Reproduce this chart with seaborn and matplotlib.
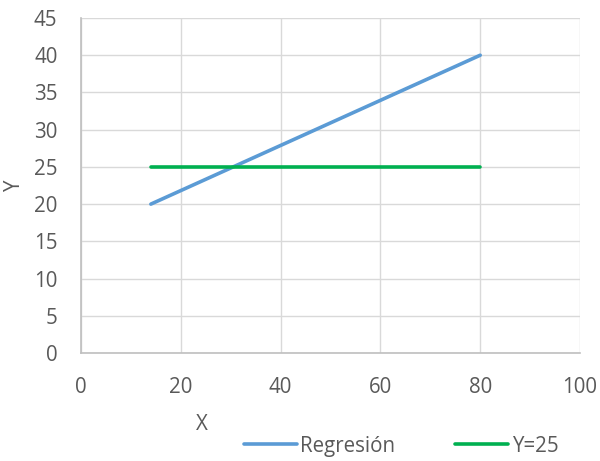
import matplotlib
matplotlib.use("Agg")
import matplotlib.pyplot as plt
import seaborn as sns
import pandas as pd
from matplotlib.lines import Line2D

reg_x = [14, 80]
reg_y = [20, 40]
h_x = [14, 80]
h_y = [25, 25]
series_names = ["Regresión", "Y=25"]
x_ticks = [0, 20, 40, 60, 80, 100]
y_ticks = [0, 5, 10, 15, 20, 25, 30, 35, 40, 45]

sns.set_theme(style="white")
plt.rcParams['font.family'] = ['Open Sans', 'DejaVu Sans']

df = pd.DataFrame({
    "x": reg_x + h_x,
    "y": reg_y + h_y,
    "s": [series_names[0]] * 2 + [series_names[1]] * 2,
})

colors = {"Regresión": "#5B9BD5", "Y=25": "#00B050"}
FS = 14.8

fig = plt.figure(figsize=(6, 4.61), dpi=100)
ax = fig.add_axes([81/600, 1-353/461, 499/600, (353-18)/461])
sns.lineplot(data=df, x="x", y="y", hue="s", palette=colors, linewidth=2.6,
             ax=ax, legend=False, estimator=None, sort=False)
ax.set_xlim(0, 100)
ax.set_ylim(0, 45)
ax.set_xticks(x_ticks)
ax.set_yticks(y_ticks)
ax.grid(True, color="#D9D9D9", linewidth=1)
ax.set_axisbelow(True)
for s in ["top", "right"]:
    ax.spines[s].set_visible(False)
for s in ["left", "bottom"]:
    ax.spines[s].set_color("#BFBFBF")
    ax.spines[s].set_linewidth(1.2)
ax.tick_params(axis="both", length=0, labelsize=FS, colors="#595959")
ax.tick_params(axis="x", pad=17)
ax.tick_params(axis="y", pad=17)
ax.set_xlabel("")
ax.set_ylabel("")
fig.text(202/600, 1-424/461, "X", fontsize=FS, color="#595959", ha="center", va="center")
fig.text(15/600, 1-186/461, "Y", fontsize=FS, color="#595959", ha="center", va="center", rotation=90)

handles = [Line2D([0], [0], color=colors[n], linewidth=2.6) for n in series_names]
fig.legend(handles, series_names, loc="center", bbox_to_anchor=(401/600, 1-446/461),
           ncol=2, frameon=False, fontsize=FS, labelcolor="#595959",
           handlelength=2.6, handletextpad=0.15, columnspacing=2.9)

fig.savefig("out.png", dpi=100)
